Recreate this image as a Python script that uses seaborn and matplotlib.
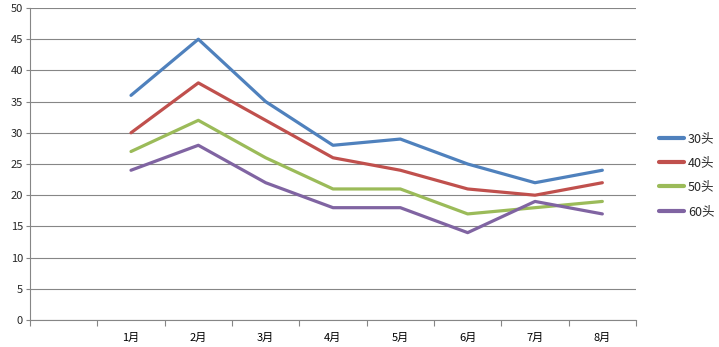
import matplotlib
matplotlib.use("Agg")
import matplotlib.pyplot as plt
import seaborn as sns
import pandas as pd
import numpy as np

categories = ["", "1月", "2月", "3月", "4月", "5月", "6月", "7月", "8月"]
months = ["1月", "2月", "3月", "4月", "5月", "6月", "7月", "8月"]
series_names = ["30头", "40头", "50头", "60头"]
s30 = [36, 45, 35, 28, 29, 25, 22, 24]
s40 = [30, 38, 32, 26, 24, 21, 20, 22]
s50 = [27, 32, 26, 21, 21, 17, 18, 19]
s60 = [24, 28, 22, 18, 18, 14, 19, 17]
colors = ["#4F81BD", "#C0504D", "#9BBB59", "#8064A2"]

rows = []
for name, vals in zip(series_names, [s30, s40, s50, s60]):
    for m, v in zip(months, vals):
        rows.append({"month": m, "pos": categories.index(m), "value": v, "series": name})
df = pd.DataFrame(rows)

sns.set_theme(style="white")
plt.rcParams['font.family'] = ['Noto Sans CJK SC', 'DejaVu Sans']

fig = plt.figure(figsize=(7.19, 3.47), dpi=100)
ax = fig.add_axes([30/719, 27/347, (636-30)/719, (320-8)/347])

sns.lineplot(data=df, x="pos", y="value", hue="series", hue_order=series_names,
             palette=colors, linewidth=2.3, ax=ax, legend=True)

ax.set_xlim(-0.5, len(categories) - 0.5)
ax.set_ylim(0, 50)
ax.set_yticks(np.arange(0, 51, 5))
ax.set_xticks(range(len(categories)))
ax.set_xticklabels(categories)
ax.set_xticks(np.arange(-0.5, len(categories), 1.0), minor=True)
ax.tick_params(axis='x', which='major', length=0, labelsize=8, pad=9, colors="#000000")
ax.tick_params(axis='x', which='minor', length=4, width=0.8, color="#868686", direction='out', bottom=True)
ax.tick_params(axis='y', which='major', length=3, width=0.8, color="#868686", labelsize=8, pad=2, left=True)
ax.yaxis.grid(True, color="#868686", linewidth=0.8)
ax.xaxis.grid(False)
ax.set_axisbelow(True)
for side in ["top", "right"]:
    ax.spines[side].set_visible(False)
for side in ["left", "bottom"]:
    ax.spines[side].set_color("#868686")
    ax.spines[side].set_linewidth(0.8)
ax.set_xlabel("")
ax.set_ylabel("")

handles, labels = ax.get_legend_handles_labels()
for h in handles:
    h.set_linewidth(3)
ax.legend(handles, labels, loc="center left", bbox_to_anchor=(653/719, 172/347),
          bbox_transform=fig.transFigure, frameon=False, fontsize=9,
          handlelength=2.0, handletextpad=0.3, labelspacing=0.9, borderpad=0)

fig.savefig("out.png", dpi=100, facecolor="white")
